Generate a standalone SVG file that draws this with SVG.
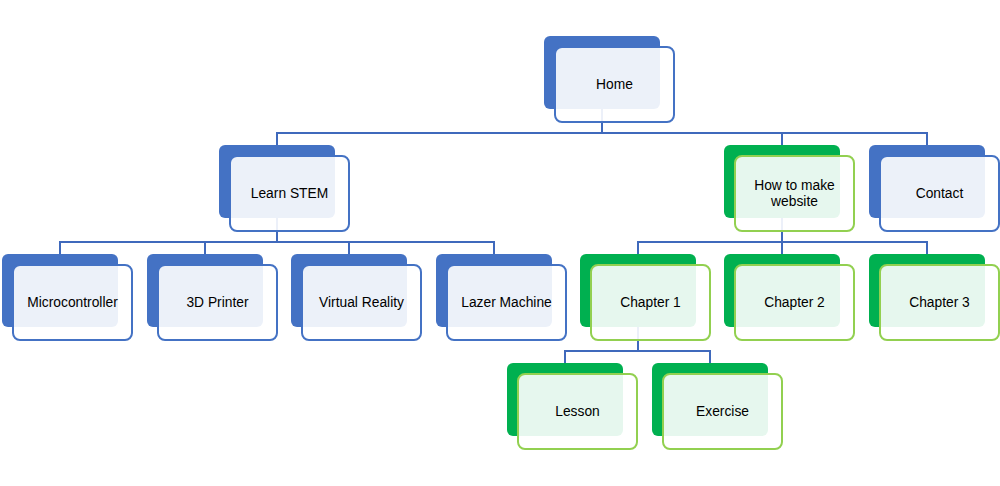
<svg xmlns="http://www.w3.org/2000/svg" width="1000" height="486" viewBox="0 0 1000 486">
<style>
.bb{fill:#4472C4}
.bg{fill:#00B050}
.fb{fill:#FFFFFF;fill-opacity:0.9;stroke:#4472C4;stroke-width:2}
.fg{fill:#FFFFFF;fill-opacity:0.9;stroke:#92D050;stroke-width:2}
.t{font-family:"Liberation Sans",Arial,sans-serif;font-size:13.8px;fill:#000;text-anchor:middle;dominant-baseline:central}
.c{fill:none;stroke:#3F69BC;stroke-width:2}
</style>
<defs>
<rect id="back" width="116" height="73" rx="6"/>
</defs>
<rect width="1000" height="486" fill="#FFFFFF"/>
<g id="connectors">
<path class="c" d="M602 109V133M277 145V133H927V145M782 133V145"/>
<path class="c" d="M277 218V242M60 254V242H494V254M205 242V254M349 242V254"/>
<path class="c" d="M782 218V242M638 254V242H927V254M782 242V254"/>
<path class="c" d="M638 327V351M565 363V351H710V363"/>
</g>
<g id="home"><use href="#back" class="bb" x="544" y="36"/><rect class="fb" x="555" y="47" width="119" height="75" rx="7"/><text class="t" x="614.5" y="84">Home</text></g>
<g id="learn-stem"><use href="#back" class="bb" x="219" y="145"/><rect class="fb" x="230" y="156" width="119" height="75" rx="7"/><text class="t" x="289.5" y="193">Learn STEM</text></g>
<g id="how-to-make-website"><use href="#back" class="bg" x="724" y="145"/><rect class="fg" x="735" y="156" width="119" height="75" rx="7"/><text class="t" x="794.5" y="185">How to make</text><text class="t" x="794.5" y="201">website</text></g>
<g id="contact"><use href="#back" class="bb" x="869" y="145"/><rect class="fb" x="880" y="156" width="119" height="75" rx="7"/><text class="t" x="939.5" y="193">Contact</text></g>
<g id="microcontroller"><use href="#back" class="bb" x="2" y="254"/><rect class="fb" x="13" y="265" width="119" height="75" rx="7"/><text class="t" x="72.5" y="302">Microcontroller</text></g>
<g id="3d-printer"><use href="#back" class="bb" x="147" y="254"/><rect class="fb" x="158" y="265" width="119" height="75" rx="7"/><text class="t" x="217.5" y="302">3D Printer</text></g>
<g id="virtual-reality"><use href="#back" class="bb" x="291" y="254"/><rect class="fb" x="302" y="265" width="119" height="75" rx="7"/><text class="t" x="361.5" y="302">Virtual Reality</text></g>
<g id="lazer-machine"><use href="#back" class="bb" x="436" y="254"/><rect class="fb" x="447" y="265" width="119" height="75" rx="7"/><text class="t" x="506.5" y="302">Lazer Machine</text></g>
<g id="chapter-1"><use href="#back" class="bg" x="580" y="254"/><rect class="fg" x="591" y="265" width="119" height="75" rx="7"/><text class="t" x="650.5" y="302">Chapter 1</text></g>
<g id="chapter-2"><use href="#back" class="bg" x="724" y="254"/><rect class="fg" x="735" y="265" width="119" height="75" rx="7"/><text class="t" x="794.5" y="302">Chapter 2</text></g>
<g id="chapter-3"><use href="#back" class="bg" x="869" y="254"/><rect class="fg" x="880" y="265" width="119" height="75" rx="7"/><text class="t" x="939.5" y="302">Chapter 3</text></g>
<g id="lesson"><use href="#back" class="bg" x="507" y="363"/><rect class="fg" x="518" y="374" width="119" height="75" rx="7"/><text class="t" x="577.5" y="411">Lesson</text></g>
<g id="exercise"><use href="#back" class="bg" x="652" y="363"/><rect class="fg" x="663" y="374" width="119" height="75" rx="7"/><text class="t" x="722.5" y="411">Exercise</text></g>
</svg>
